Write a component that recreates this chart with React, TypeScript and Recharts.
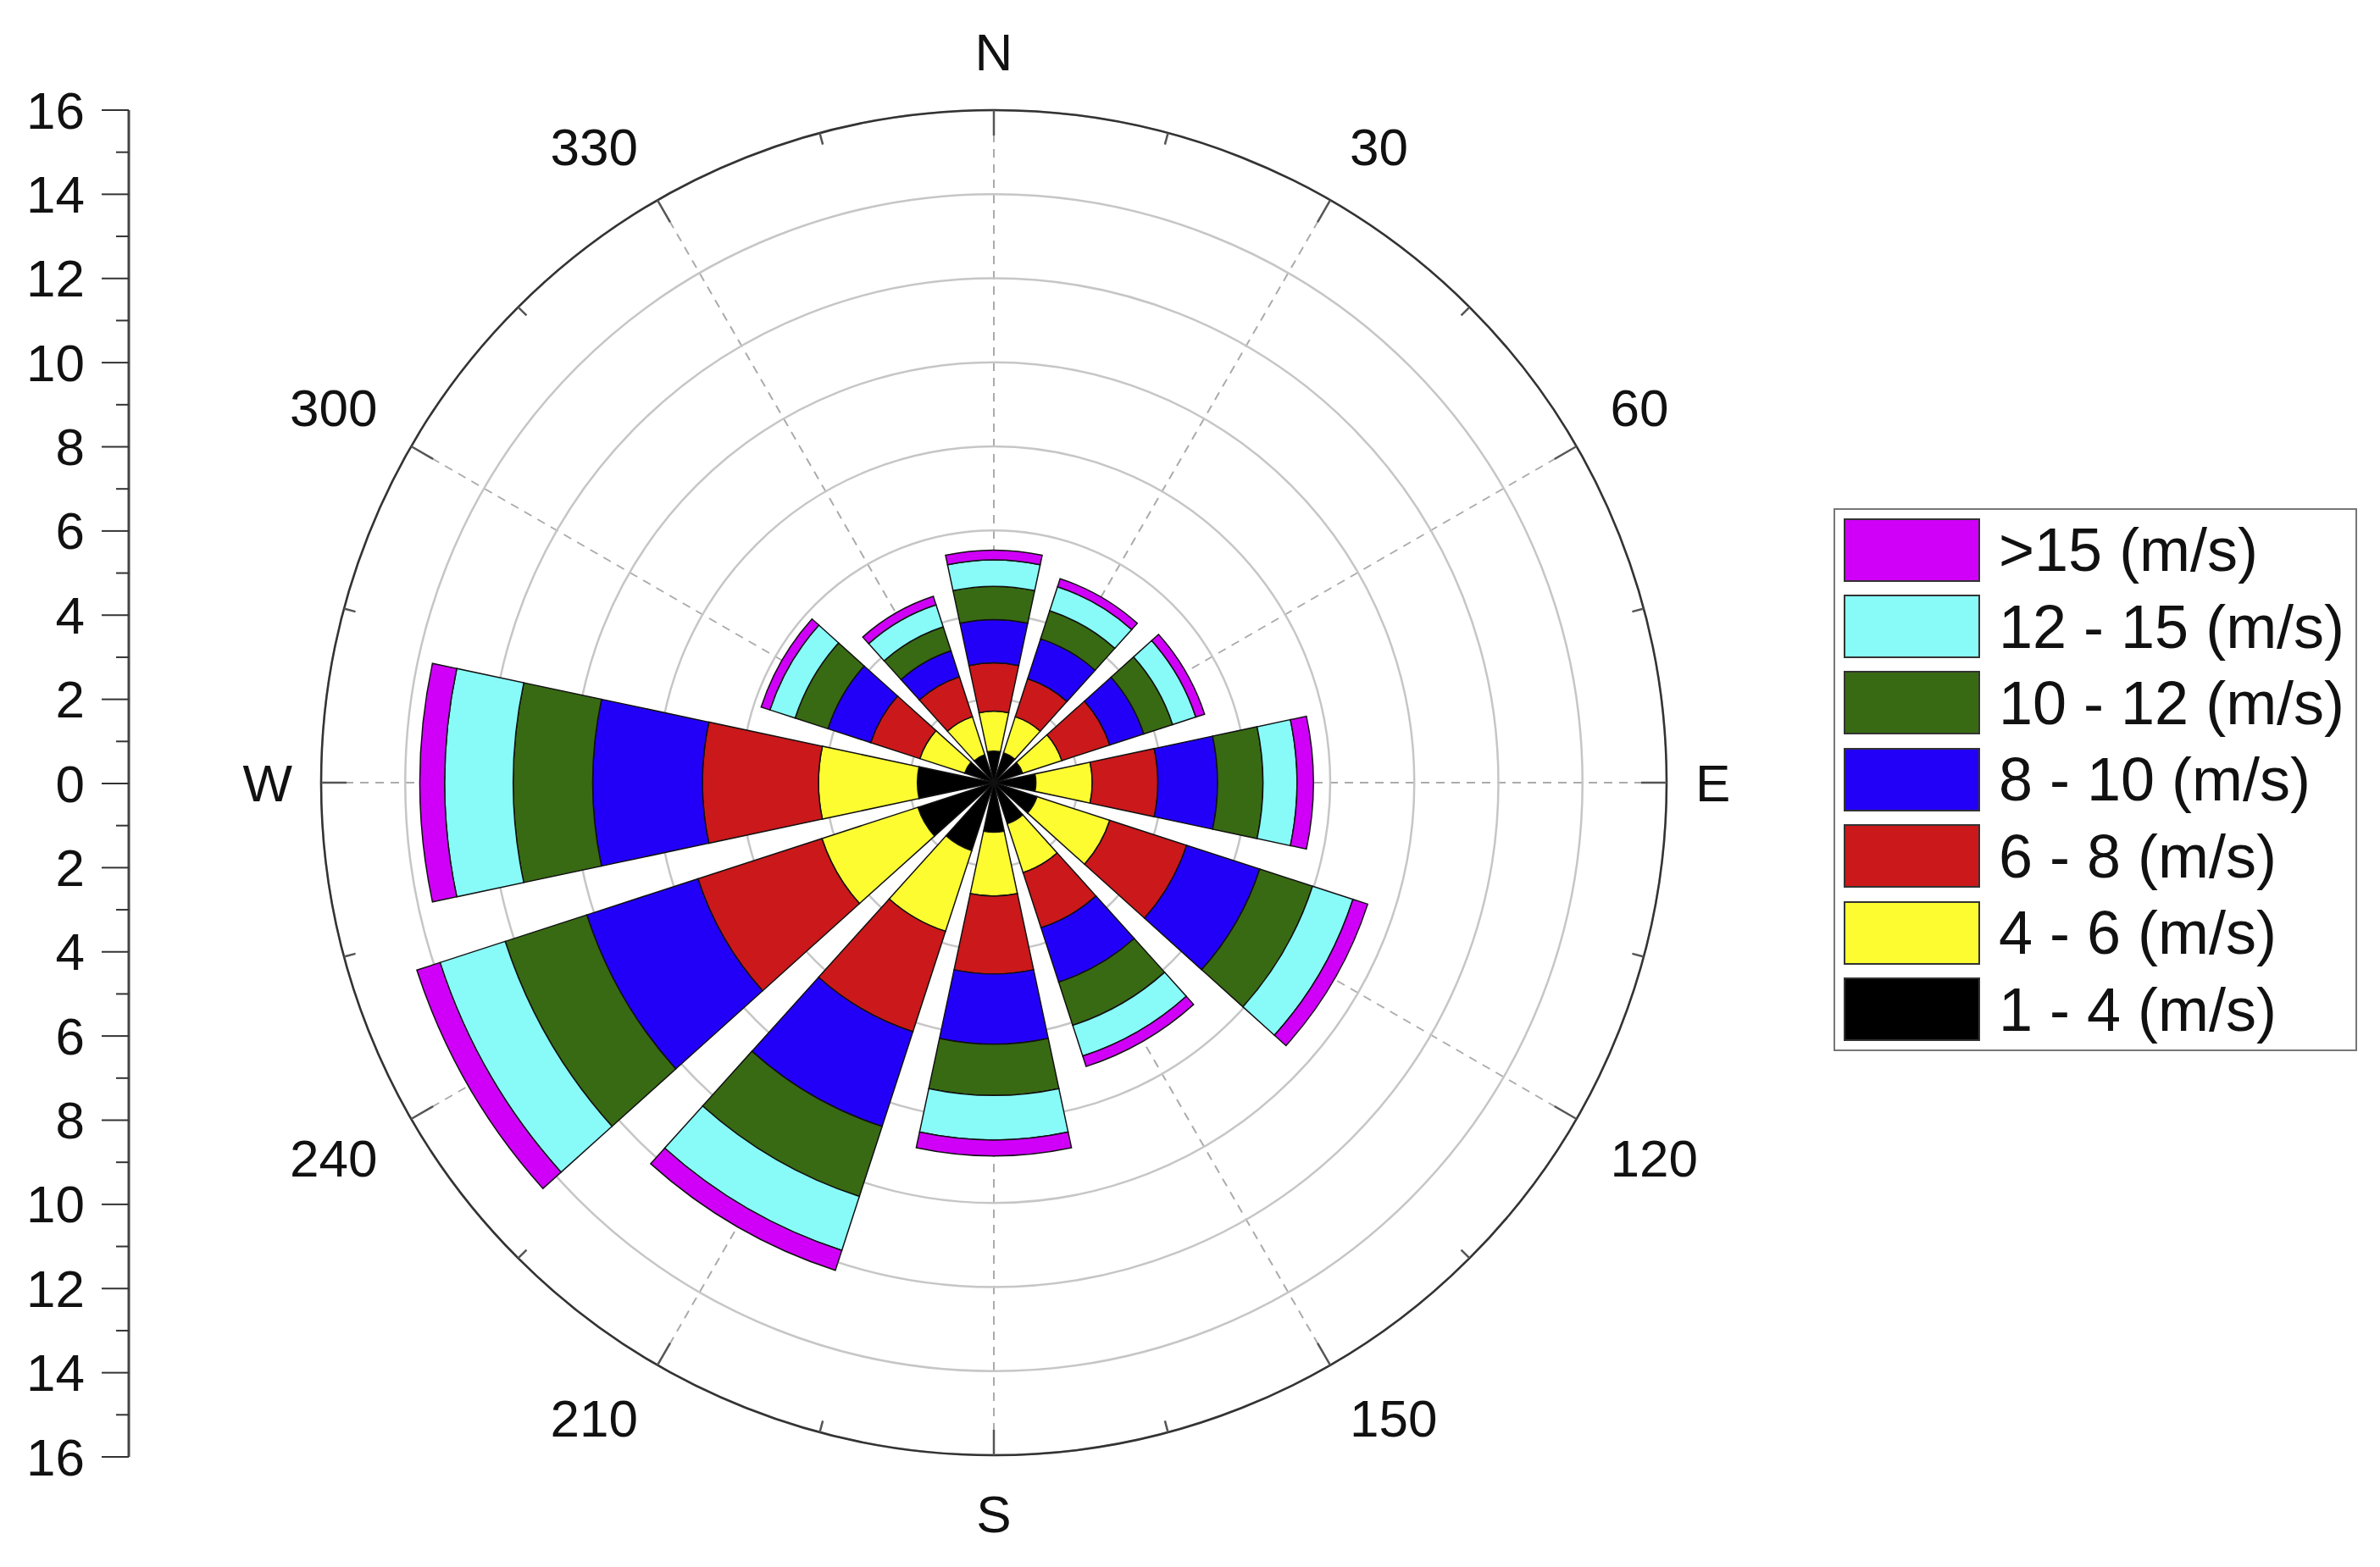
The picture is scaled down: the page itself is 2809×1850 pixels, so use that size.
import { RadialBarChart, RadialBar, PolarAngleAxis, PolarRadiusAxis, PolarGrid, ComposedChart, Line, XAxis, YAxis } from 'recharts';

const directions = ['N', '30', '60', 'E', '120', '150', 'S', '210', '240', 'W', '300', '330'];

const speedBins = ['1 - 4 (m/s)', '4 - 6 (m/s)', '6 - 8 (m/s)', '8 - 10 (m/s)', '10 - 12 (m/s)', '12 - 15 (m/s)', '>15 (m/s)'];
const binKeys = ['s1to4', 's4to6', 's6to8', 's8to10', 's10to12', 's12to15', 'sOver15'];
const binColors = ['#000000', '#fcfc30', '#cb181b', '#2200f8', '#386a13', '#88fbf9', '#d000f8'];

// frequency (%) per direction, one array per speed class
const s1to4 = [0.75, 0.75, 0.72, 1.0, 1.08, 1.03, 1.18, 1.7, 1.9, 1.82, 0.73, 0.7];
const s4to6 = [0.95, 0.9, 0.98, 1.34, 1.82, 1.22, 1.52, 2.02, 2.4, 2.35, 1.12, 0.95];
const s6to8 = [1.15, 0.95, 1.2, 1.56, 1.92, 1.38, 1.85, 2.51, 3.1, 2.76, 1.23, 1.0];
const s8to10 = [1.03, 1.0, 0.85, 1.42, 1.83, 1.36, 1.67, 2.37, 2.78, 2.61, 1.07, 0.65];
const s10to12 = [0.79, 0.7, 0.72, 1.08, 1.32, 1.08, 1.22, 1.75, 2.04, 1.89, 0.82, 0.6];
const s12to15 = [0.63, 0.6, 0.58, 0.81, 1.01, 0.77, 1.06, 1.35, 1.63, 1.63, 0.63, 0.55];
const sOver15 = [0.23, 0.2, 0.22, 0.39, 0.37, 0.26, 0.38, 0.5, 0.58, 0.59, 0.22, 0.21];

const leftAxisTicks = [16, 15, 14, 13, 12, 11, 10, 9, 8, 7, 6, 5, 4, 3, 2, 1, 0, -1, -2, -3, -4, -5, -6, -7, -8, -9, -10, -11, -12, -13, -14, -15, -16];

const FONT = '"Liberation Sans", Arial, sans-serif';
const CX = 1173;
const CY = 924;
const R = 794;
const RAD = Math.PI / 180;
const HALF_BAND = 15; // tick coordinate sits on the band edge, bars are centred in the band
const LABEL_SIZE = 62;

const series = [s1to4, s4to6, s6to8, s8to10, s10to12, s12to15, sOver15];
const data = directions.map((dir, i) => {
  const row: Record<string, string | number> = { dir };
  binKeys.forEach((k, j) => {
    row[k] = series[j][i];
  });
  return row;
});

const pt = (r: number, deg: number) => ({ x: CX + r * Math.cos(deg * RAD), y: CY - r * Math.sin(deg * RAD) });

const glyphWidth: Record<string, number> = { N: 0.722, E: 0.667, S: 0.667, W: 0.944 };
const labelHalfWidth = (s: string) =>
  (s.split('').reduce((w, ch) => w + (glyphWidth[ch] ?? 0.556), 0) * LABEL_SIZE) / 2;

function AngleTick(props: any) {
  const { payload } = props;
  const a = payload.coordinate + HALF_BAND;
  const c = Math.cos(a * RAD);
  const s = Math.sin(a * RAD);
  const sx = Math.abs(c) < 0.1 ? 0 : Math.sign(c);
  const sy = Math.abs(s) < 0.1 ? 0 : Math.sign(s);
  const gap = sy === 0 ? 34 : 46;
  // the label box corner nearest the circle sits just outside it
  const p = pt(R + gap, a);
  const lx = p.x + sx * labelHalfWidth(String(payload.value));
  const ly = p.y - sy * 23;
  const major = [pt(R, a), pt(R - 30, a)];
  const minor = [pt(R, a - HALF_BAND), pt(R - 14, a - HALF_BAND)];
  return (
    <g>
      <line x1={major[0].x} y1={major[0].y} x2={major[1].x} y2={major[1].y} stroke="#555" strokeWidth={2.5} />
      <line x1={minor[0].x} y1={minor[0].y} x2={minor[1].x} y2={minor[1].y} stroke="#555" strokeWidth={2.5} />
      <text x={lx} y={ly} textAnchor="middle" dominantBaseline="central" fontSize={LABEL_SIZE} fontFamily={FONT} fill="#111">
        {payload.value}
      </text>
    </g>
  );
}

// dashed spokes along the direction centres, drawn under the bars
function Spoke(props: any) {
  const { payload } = props;
  const a = payload.coordinate + HALF_BAND;
  const p = pt(R - 30, a);
  return <line x1={CX} y1={CY} x2={p.x} y2={p.y} stroke="#ababab" strokeWidth={2} strokeDasharray="10 8" />;
}

function LeftTick(props: any) {
  const { x, y, payload } = props;
  const v = payload.value;
  const major = v % 2 === 0;
  return (
    <g>
      <line x1={x - (major ? 32 : 15)} y1={y} x2={x} y2={y} stroke="#333" strokeWidth={2} />
      {major && (
        <text x={x - 52} y={y} textAnchor="end" dominantBaseline="central" fontSize={LABEL_SIZE} fontFamily={FONT} fill="#111">
          {Math.abs(v)}
        </text>
      )}
    </g>
  );
}

const polarProps = {
  width: 2809,
  height: 1850,
  data,
  layout: 'centric' as const,
  cx: CX,
  cy: CY,
  innerRadius: 0,
  outerRadius: R,
  startAngle: 75,
  endAngle: -285,
  margin: { top: 0, right: 0, bottom: 0, left: 0 },
};

export default function App() {
  return (
    <div style={{ position: 'absolute', left: 0, top: 0, width: 2809, height: 1850, background: '#fff', fontFamily: FONT }}>
      {/* spokes layer */}
      <div style={{ position: 'absolute', left: 0, top: 0 }}>
        <RadialBarChart {...polarProps}>
          <PolarAngleAxis type="category" dataKey="dir" axisLine={false} tickLine={false} tick={<Spoke />} />
          <PolarRadiusAxis type="number" domain={[0, 16]} axisLine={false} tick={false} />
        </RadialBarChart>
      </div>

      {/* rings, bars and outer axis */}
      <div style={{ position: 'absolute', left: 0, top: 0 }}>
        <RadialBarChart {...polarProps} barCategoryGap="10%">
          <PolarGrid gridType="circle" radialLines={false} stroke="#c6c6c6" strokeWidth={2.5} />
          <PolarAngleAxis
            type="category"
            dataKey="dir"
            axisLineType="circle"
            axisLine={{ stroke: '#333', strokeWidth: 2.5 }}
            tickLine={false}
            tick={<AngleTick />}
          />
          <PolarRadiusAxis type="number" domain={[0, 16]} tickCount={9} axisLine={false} tick={false} />
          {binKeys.map((k, j) => (
            <RadialBar
              key={k}
              dataKey={k}
              name={speedBins[j]}
              stackId="wind"
              fill={binColors[j]}
              stroke="#111"
              strokeWidth={1.5}
              legendType="none"
              isAnimationActive={false}
            />
          ))}
        </RadialBarChart>
      </div>

      {/* left scale */}
      <div style={{ position: 'absolute', left: 0, top: 0 }}>
        <ComposedChart width={175} height={1850} data={leftAxisTicks.map((v) => ({ v }))} margin={{ top: 130, bottom: 130, left: 0, right: 0 }}>
          <XAxis dataKey="v" hide />
          <YAxis
            type="number"
            domain={[-16, 16]}
            ticks={leftAxisTicks}
            interval={0}
            width={152}
            tickSize={0}
            tickMargin={0}
            axisLine={{ stroke: '#444', strokeWidth: 3 }}
            tickLine={false}
            tick={<LeftTick />}
          />
          <Line dataKey="v" stroke="none" dot={false} legendType="none" isAnimationActive={false} />
        </ComposedChart>
      </div>

      <div
        style={{
          position: 'absolute',
          left: 2164,
          top: 600,
          width: 618,
          boxSizing: 'border-box',
          border: '2.5px solid #777',
          padding: '2px 0 2px 10px',
          background: '#fff',
        }}
      >
        {speedBins
          .map((name, j) => ({ name, color: binColors[j] }))
          .reverse()
          .map((e) => (
            <div key={e.name} style={{ display: 'flex', alignItems: 'center', height: 90.4 }}>
              <div style={{ width: 161, height: 75, background: e.color, border: '2px solid #333', boxSizing: 'border-box' }} />
              <span style={{ marginLeft: 22, fontSize: 72, lineHeight: 1, color: '#111', whiteSpace: 'nowrap' }}>{e.name}</span>
            </div>
          ))}
      </div>
    </div>
  );
}
